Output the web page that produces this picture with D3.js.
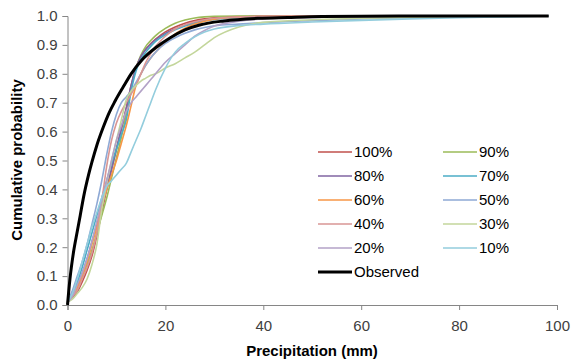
<!DOCTYPE html>
<html>
<head>
<meta charset="utf-8">
<script src="https://cdn.jsdelivr.net/npm/d3@7"></script>
<style>
  html, body { margin: 0; padding: 0; background: #fff; }
  svg { display: block; }
</style>
</head>
<body>
<svg id="chart" width="572" height="363"></svg>
<script>
// Precipitation grid (mm) shared by the ensemble curves
const precip = [0,1,2,3,4,5,6,7,8,9,10,11,12,13,14,15,16,17,18,20,22,24,26,28,30,35,40,50,60,70,80,90,98.3];

// Cumulative probability for each ensemble member
const p100 = [0.01,0.025,0.045,0.08,0.12,0.17,0.24,0.32,0.40,0.47,0.54,0.61,0.68,0.76,0.82,0.86,0.885,0.905,0.92,0.945,0.962,0.975,0.984,0.99,0.994,0.998,0.999,1,1,1,1,1,1];
const p90  = [0.01,0.03,0.06,0.10,0.14,0.19,0.25,0.31,0.37,0.44,0.51,0.58,0.66,0.75,0.82,0.865,0.895,0.915,0.932,0.957,0.975,0.986,0.993,0.997,0.999,1,1,1,1,1,1,1,1];
const p80  = [0.01,0.04,0.07,0.11,0.16,0.22,0.28,0.34,0.40,0.47,0.54,0.61,0.68,0.76,0.82,0.86,0.885,0.902,0.918,0.94,0.955,0.968,0.978,0.985,0.99,0.996,0.999,1,1,1,1,1,1];
const p70  = [0.01,0.04,0.08,0.13,0.19,0.25,0.31,0.37,0.43,0.49,0.54,0.59,0.64,0.74,0.81,0.85,0.875,0.895,0.912,0.935,0.952,0.965,0.975,0.983,0.988,0.994,0.997,1,1,1,1,1,1];
const p60  = [0.01,0.03,0.06,0.10,0.15,0.21,0.27,0.34,0.40,0.45,0.50,0.56,0.62,0.69,0.76,0.80,0.83,0.855,0.875,0.91,0.938,0.958,0.972,0.982,0.989,0.996,0.999,1,1,1,1,1,1];
const p50  = [0.01,0.05,0.10,0.15,0.21,0.28,0.35,0.43,0.52,0.60,0.66,0.70,0.72,0.74,0.77,0.80,0.83,0.855,0.875,0.905,0.925,0.94,0.952,0.96,0.966,0.972,0.977,0.984,0.99,0.995,0.998,1,1];
const p40  = [0.01,0.03,0.05,0.09,0.13,0.18,0.25,0.36,0.48,0.57,0.63,0.67,0.70,0.73,0.76,0.80,0.84,0.87,0.895,0.93,0.955,0.97,0.98,0.987,0.992,0.996,0.999,1,1,1,1,1,1];
const p30  = [0.01,0.02,0.04,0.06,0.09,0.14,0.21,0.33,0.42,0.50,0.57,0.64,0.71,0.74,0.76,0.775,0.785,0.795,0.80,0.82,0.835,0.855,0.875,0.90,0.925,0.962,0.978,0.987,0.992,0.995,0.997,0.999,1];
const p20  = [0.01,0.03,0.07,0.11,0.16,0.22,0.29,0.36,0.43,0.50,0.57,0.62,0.67,0.70,0.72,0.74,0.76,0.78,0.80,0.84,0.87,0.90,0.93,0.95,0.965,0.982,0.99,0.995,0.998,1,1,1,1];
const p10  = [0.01,0.04,0.09,0.15,0.21,0.27,0.32,0.37,0.41,0.43,0.45,0.47,0.49,0.53,0.57,0.61,0.655,0.70,0.745,0.82,0.875,0.905,0.928,0.945,0.955,0.967,0.972,0.979,0.985,0.99,0.994,0.997,1];

// Observed empirical distribution
const obsPrecip = [0,0.5,1.2,2,2.6,3.3,4.3,5,6,7.3,8.5,9.7,11.4,13,15.2,18,21,24,27,32,39,45,52,60,70,80,90,98.3];
const obsProb   = [0,0.09,0.18,0.255,0.31,0.375,0.45,0.495,0.553,0.615,0.665,0.705,0.755,0.80,0.848,0.89,0.925,0.952,0.969,0.983,0.992,0.995,0.998,0.999,1,1,1,1];

const seriesNames = ["100%","90%","80%","70%","60%","50%","40%","30%","20%","10%"];
const seriesValues = [p100,p90,p80,p70,p60,p50,p40,p30,p20,p10];
const seriesColors = ["#C0504D","#9BBB59","#8064A2","#4BACC6","#F79646","#8EA9D5","#D99694","#C3D69B","#B3A2C7","#93CDDD"];

const xTicks = [0,20,40,60,80,100];
const yTicks = [0,0.1,0.2,0.3,0.4,0.5,0.6,0.7,0.8,0.9,1.0];

const svg = d3.select("#chart");
const font = "'Liberation Sans', Arial, sans-serif";

const x = d3.scaleLinear().domain([0,100]).range([67.5,557]);
const y = d3.scaleLinear().domain([0,1]).range([305,16]);

const axisColor = "#868686";

// Y axis
const yAxis = svg.append("g")
  .attr("transform", `translate(${x(0)},0)`)
  .call(d3.axisLeft(y).tickValues(yTicks).tickSize(5).tickPadding(5).tickFormat(d3.format(".1f")));
// X axis
const xAxis = svg.append("g")
  .attr("transform", `translate(0,${y(0)})`)
  .call(d3.axisBottom(x).tickValues(xTicks).tickSize(5).tickPadding(10).tickFormat(d3.format("d")));

[yAxis, xAxis].forEach(g => {
  g.select(".domain").attr("stroke", axisColor).attr("stroke-width", 1);
  g.selectAll(".tick line").attr("stroke", axisColor);
  g.selectAll(".tick text").attr("fill", "#404040").style("font-family", font).style("font-size", "15px");
});

// Curves
const line = d3.line().x(d => x(d[0])).y(d => y(d[1])).curve(d3.curveMonotoneX);
const plot = svg.append("g");

seriesValues.forEach((vals, i) => {
  plot.append("path")
    .datum(precip.map((p, j) => [p, vals[j]]))
    .attr("fill", "none")
    .attr("stroke", seriesColors[i])
    .attr("stroke-width", 1.6)
    .attr("stroke-linejoin", "round")
    .attr("d", line);
});

plot.append("path")
  .datum(obsPrecip.map((p, j) => [p, obsProb[j]]))
  .attr("fill", "none")
  .attr("stroke", "#000")
  .attr("stroke-width", 3)
  .attr("stroke-linejoin", "round")
  .attr("d", line);

// Axis titles
svg.append("text")
  .attr("x", 312).attr("y", 356)
  .attr("text-anchor", "middle")
  .style("font-family", font).style("font-size", "15px").style("font-weight", "bold")
  .attr("fill", "#000")
  .text("Precipitation (mm)");

svg.append("text")
  .attr("transform", "translate(22,160) rotate(-90)")
  .attr("text-anchor", "middle")
  .style("font-family", font).style("font-size", "15px").style("font-weight", "bold")
  .attr("fill", "#000")
  .text("Cumulative probability");

// Legend: two columns, observed on its own row
const legend = svg.append("g");
const legendItems = seriesNames.map((n, i) => ({name: n, color: seriesColors[i], width: 1.6}));
legendItems.push({name: "Observed", color: "#000", width: 3});

legendItems.forEach((d, i) => {
  const col = i < 10 ? i % 2 : 0;
  const row = i < 10 ? Math.floor(i / 2) : 5;
  const lx = 318 + col * 125;
  const ly = 152 + row * 24;
  legend.append("line")
    .attr("x1", lx).attr("x2", lx + 34)
    .attr("y1", ly).attr("y2", ly)
    .attr("stroke", d.color).attr("stroke-width", d.width);
  legend.append("text")
    .attr("x", lx + 36).attr("y", ly + 5)
    .style("font-family", font).style("font-size", "15px")
    .attr("fill", "#000")
    .text(d.name);
});
</script>
</body>
</html>
